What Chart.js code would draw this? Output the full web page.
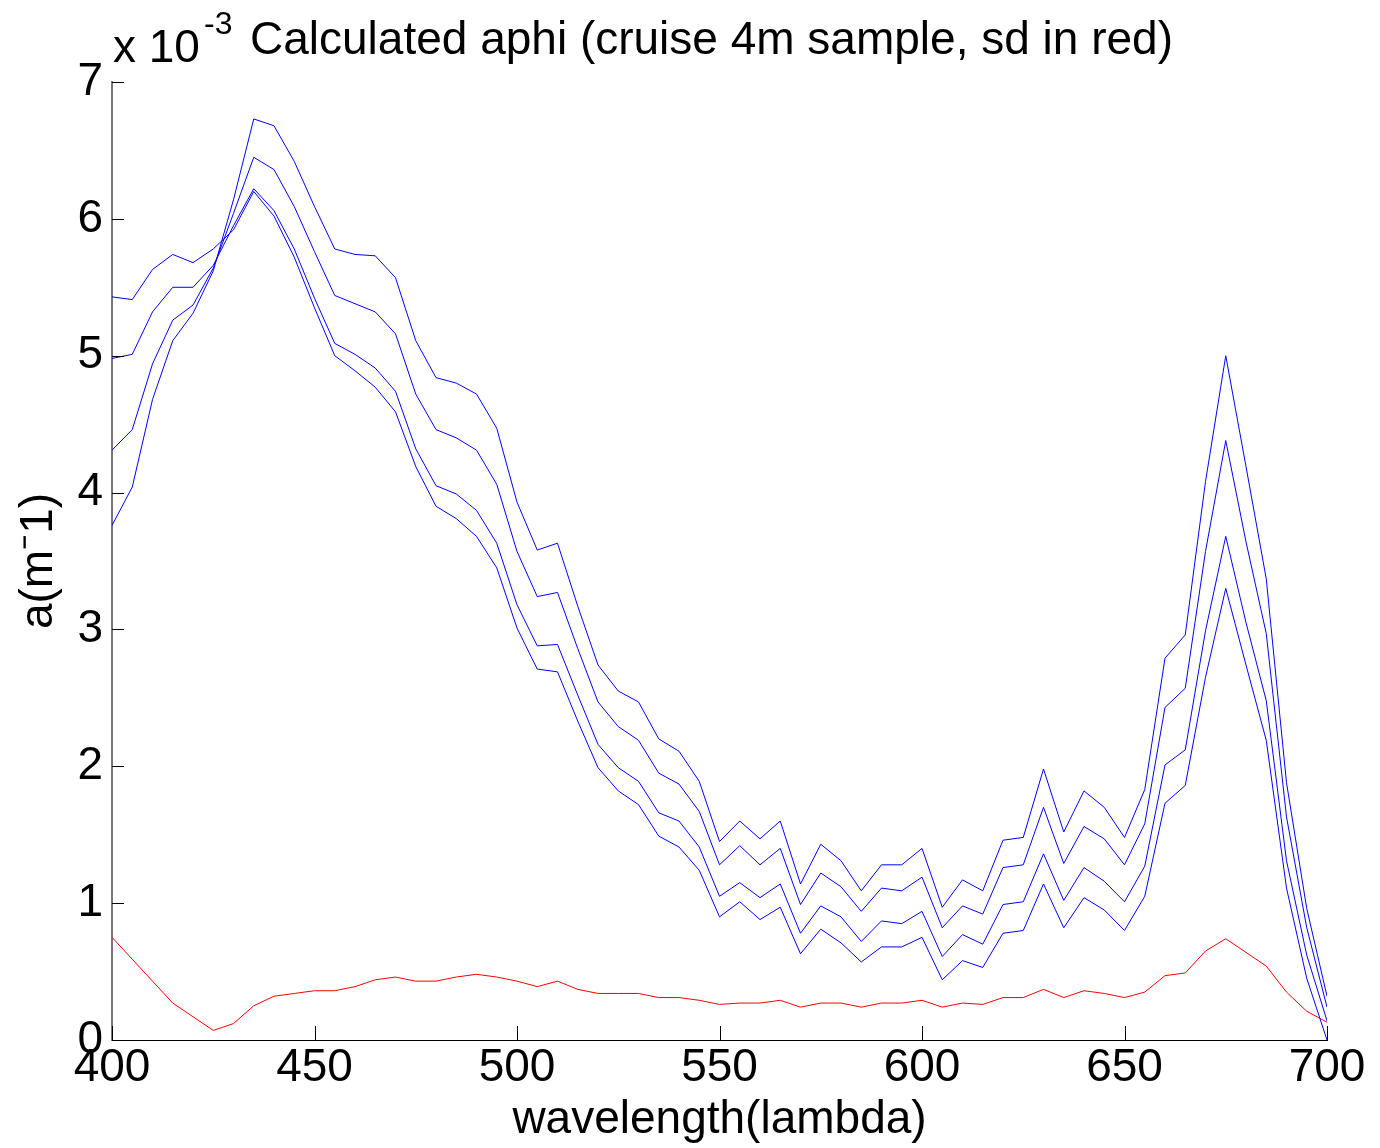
<!DOCTYPE html>
<html>
<head>
<meta charset="utf-8">
<script src="https://cdn.jsdelivr.net/npm/chart.js@4.4.1/dist/chart.umd.min.js"></script>
<style>
  html, body { margin: 0; padding: 0; background: #fff; }
  canvas { display: block; }
</style>
</head>
<body>
<canvas id="aphi" width="1380" height="1148"></canvas>
<script>
// wavelength (nm)
var wavelength = [400, 405, 410, 415, 420, 425, 430, 435, 440, 445, 450, 455, 460, 465, 470,
  475, 480, 485, 490, 495, 500, 505, 510, 515, 520, 525, 530, 535, 540, 545, 550,
  555, 560, 565, 570, 575, 580, 585, 590, 595, 600, 605, 610, 615, 620, 625, 630,
  635, 640, 645, 650, 655, 660, 665, 670, 675, 680, 685, 690, 695, 700];

// aphi, x 10^-3 m^-1
var aphi1 = [5.43, 5.41, 5.63, 5.74, 5.68, 5.78, 5.92, 6.20, 6.02, 5.72, 5.35, 5.00, 4.89, 4.77, 4.59,
  4.19, 3.90, 3.81, 3.68, 3.45, 3.01, 2.71, 2.69, 2.33, 1.99, 1.82, 1.72, 1.49, 1.41, 1.24, 0.90,
  1.01, 0.88, 0.97, 0.63, 0.81, 0.71, 0.57, 0.68, 0.68, 0.75, 0.44, 0.58, 0.53, 0.78, 0.80, 1.14,
  0.82, 1.04, 0.95, 0.80, 1.05, 1.73, 1.86, 2.65, 3.30, 2.74, 2.19, 1.11, 0.45, 0.00];
var aphi2 = [4.98, 5.01, 5.32, 5.50, 5.50, 5.66, 5.95, 6.22, 6.06, 5.78, 5.42, 5.09, 5.01, 4.91, 4.74,
  4.32, 4.05, 3.99, 3.87, 3.63, 3.18, 2.88, 2.89, 2.52, 2.16, 1.99, 1.89, 1.66, 1.60, 1.41, 1.05,
  1.15, 1.04, 1.14, 0.78, 0.98, 0.90, 0.72, 0.87, 0.85, 0.94, 0.61, 0.77, 0.70, 0.99, 1.01, 1.36,
  1.02, 1.26, 1.16, 1.01, 1.27, 2.01, 2.12, 2.99, 3.68, 3.05, 2.48, 1.31, 0.62, 0.14];
var aphi3 = [4.31, 4.46, 4.94, 5.26, 5.37, 5.64, 6.04, 6.45, 6.36, 6.09, 5.76, 5.44, 5.38, 5.32, 5.16,
  4.72, 4.46, 4.40, 4.31, 4.06, 3.57, 3.24, 3.27, 2.86, 2.47, 2.29, 2.19, 1.95, 1.87, 1.67, 1.28,
  1.42, 1.28, 1.40, 0.99, 1.22, 1.12, 0.94, 1.11, 1.09, 1.19, 0.82, 0.98, 0.92, 1.26, 1.28, 1.70,
  1.29, 1.56, 1.47, 1.28, 1.58, 2.43, 2.57, 3.57, 4.38, 3.64, 2.97, 1.63, 0.82, 0.24];
var aphi4 = [3.76, 4.04, 4.68, 5.11, 5.31, 5.62, 6.14, 6.73, 6.68, 6.42, 6.09, 5.78, 5.74, 5.73, 5.57,
  5.11, 4.84, 4.80, 4.72, 4.47, 3.93, 3.58, 3.63, 3.17, 2.74, 2.55, 2.47, 2.20, 2.11, 1.89, 1.45,
  1.60, 1.47, 1.60, 1.14, 1.43, 1.31, 1.09, 1.28, 1.28, 1.40, 0.97, 1.17, 1.09, 1.46, 1.48, 1.98,
  1.52, 1.82, 1.70, 1.48, 1.83, 2.79, 2.96, 4.08, 5.00, 4.19, 3.37, 1.88, 0.96, 0.32];
// standard deviation
var aphiSd = [0.75, 0.59, 0.43, 0.27, 0.17, 0.07, 0.12, 0.25, 0.32, 0.34, 0.36, 0.36, 0.39, 0.44, 0.46,
  0.43, 0.43, 0.46, 0.48, 0.46, 0.43, 0.39, 0.43, 0.37, 0.34, 0.34, 0.34, 0.31, 0.31, 0.29, 0.26,
  0.27, 0.27, 0.29, 0.24, 0.27, 0.27, 0.24, 0.27, 0.27, 0.29, 0.24, 0.27, 0.26, 0.31, 0.31, 0.37,
  0.31, 0.36, 0.34, 0.31, 0.35, 0.47, 0.49, 0.65, 0.74, 0.64, 0.54, 0.35, 0.21, 0.13];

var xTicks = [400, 450, 500, 550, 600, 650, 700];
var yTicks = [0, 1, 2, 3, 4, 5, 6, 7];

var FONT = '"Liberation Sans", Arial, Helvetica, sans-serif';

function pts(vals) {
    return wavelength.map(function (w, i) { return {x: w, y: vals[i]}; });
}

function line(vals, color) {
    return {
        data: pts(vals),
        borderColor: color,
        borderWidth: 1,
        pointRadius: 0,
        tension: 0,
        fill: false
    };
}

// matlab style inward ticks, exponent and title
var decor = {
    id: 'decor',
    afterDraw: function (chart) {
        var ctx = chart.ctx, a = chart.chartArea;
        var x = chart.scales.x, y = chart.scales.y;
        ctx.save();
        ctx.strokeStyle = '#000';
        ctx.lineWidth = 1;
        ctx.beginPath();
        yTicks.forEach(function (v) {
            var py = Math.round(y.getPixelForValue(v)) + 0.5;
            ctx.moveTo(a.left, py);
            ctx.lineTo(a.left + 12, py);
        });
        xTicks.forEach(function (v) {
            var px = Math.round(x.getPixelForValue(v)) + 0.5;
            ctx.moveTo(px, a.bottom);
            ctx.lineTo(px, a.bottom - 14);
        });
        ctx.stroke();

        ctx.fillStyle = '#000';
        ctx.textBaseline = 'alphabetic';
        ctx.textAlign = 'left';
        ctx.font = '46px ' + FONT;
        ctx.fillText('x 10', 113, 62);
        ctx.font = '32px ' + FONT;
        ctx.fillText('-3', 204, 34);
        ctx.font = '46px ' + FONT;
        ctx.fillText('Calculated aphi (cruise 4m sample, sd in red)', 250, 54);
        ctx.restore();
    }
};

var ctx = document.getElementById('aphi');
var myChart = new Chart(ctx, {
    type: 'line',
    data: {
        datasets: [
            line(aphi1, '#0000ff'),
            line(aphi2, '#0000ff'),
            line(aphi3, '#0000ff'),
            line(aphi4, '#0000ff'),
            line(aphiSd, '#ff0000')
        ]
    },
    options: {
        responsive: false,
        animation: false,
        devicePixelRatio: 1,
        layout: {padding: {top: 82, right: 53, left: 0, bottom: 0}},
        plugins: {legend: {display: false}, tooltip: {enabled: false}},
        scales: {
            x: {
                type: 'linear',
                min: 400,
                max: 700,
                afterBuildTicks: function (s) { s.ticks = xTicks.map(function (v) { return {value: v}; }); },
                afterFit: function (s) { s.height = 108; },
                grid: {display: false, drawTicks: false},
                border: {display: true, color: '#000', width: 1},
                ticks: {color: '#000', font: {family: FONT, size: 46}, padding: 1, maxRotation: 0, autoSkip: false},
                title: {display: true, text: 'wavelength(lambda)', color: '#000',
                        font: {family: FONT, size: 46}, padding: {top: 0, bottom: 0}}
            },
            y: {
                min: 0,
                max: 7,
                afterBuildTicks: function (s) { s.ticks = yTicks.map(function (v) { return {value: v}; }); },
                afterFit: function (s) { s.width = 112; },
                grid: {display: false, drawTicks: false},
                border: {display: true, color: '#777', width: 2},
                ticks: {color: '#000', font: {family: FONT, size: 46}, padding: 9, autoSkip: false},
                title: {display: true, text: 'a(m\u207B1)', color: '#000',
                        font: {family: FONT, size: 46}, padding: {top: 12, bottom: 0}}
            }
        }
    },
    plugins: [decor]
});
</script>
</body>
</html>
